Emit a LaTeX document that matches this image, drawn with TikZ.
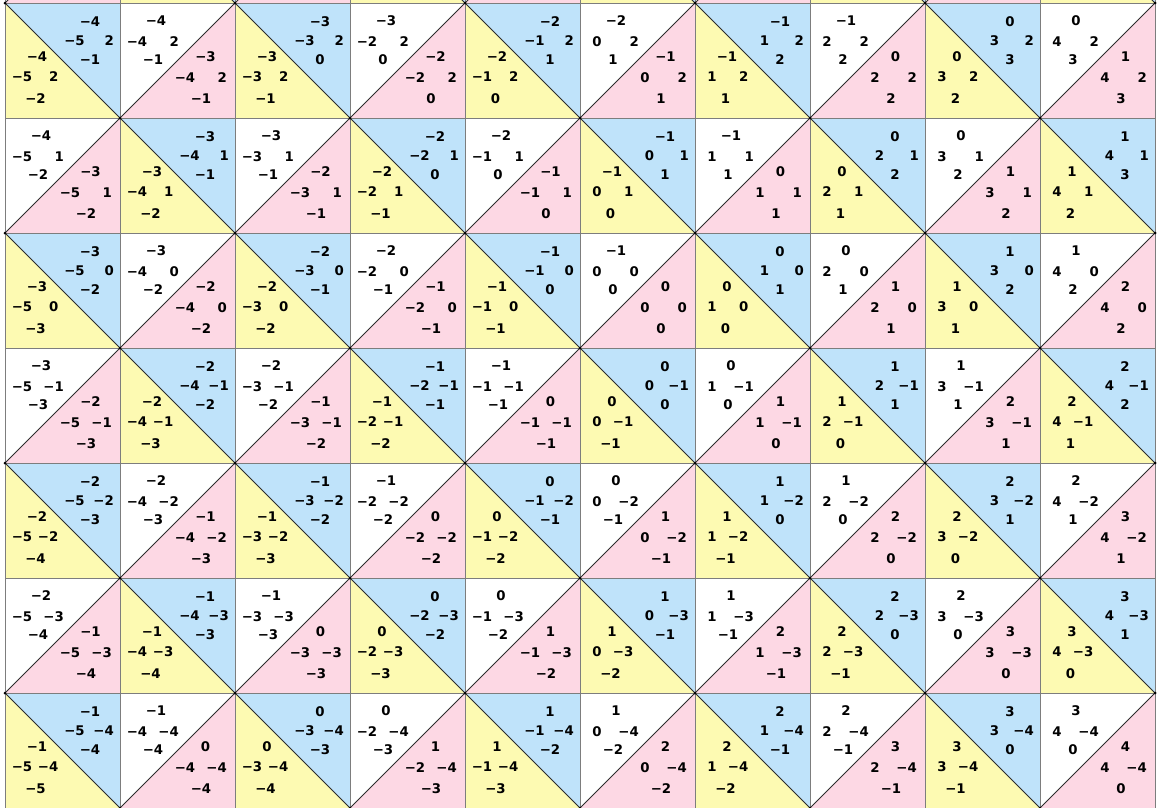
\documentclass[tikz,border=0pt]{standalone}
\usepackage{fontspec}
\setmainfont{DejaVu Sans}
\newfontfamily\numfont{DejaVu Sans Bold}
\definecolor{cblue}{RGB}{191,227,250}
\definecolor{cyellow}{RGB}{253,250,178}
\definecolor{cpink}{RGB}{253,216,228}
\definecolor{cgrid}{RGB}{125,125,125}
\definecolor{cdiag}{RGB}{45,45,45}
\newcommand\sn[1]{\ifnum#1<0 −\number-#1\else\number#1\fi}
\begin{document}
\begin{tikzpicture}[x=1pt,y=-1pt,
  num/.style={inner sep=0pt, font=\numfont\fontsize{13.3}{16}\selectfont},
  gridline/.style={draw=cgrid, line width=0.9pt},
  diagline/.style={draw=cdiag, line width=0.8pt},
  vdot/.style={fill=black, circle, inner sep=0pt, minimum size=3pt}]
\useasboundingbox (0,0) rectangle (1158,807);
\clip (0,0) rectangle (1158,807);
\fill[white] (0,0) rectangle (1158,807);
% triangles
\foreach \r in {-1,...,6}{
  \foreach \c in {0,...,9}{
    \pgfmathsetmacro{\xa}{5+115*\c}
    \pgfmathsetmacro{\ya}{3+115*\r}
    \pgfmathsetmacro{\xb}{\xa+115}
    \pgfmathsetmacro{\yb}{\ya+115}
    \pgfmathtruncatemacro{\pp}{mod(\r+\c+2,2)}
    \ifnum\pp=0
      \fill[cblue] (\xa,\ya) -- (\xb,\ya) -- (\xb,\yb) -- cycle;
      \fill[cyellow] (\xa,\ya) -- (\xa,\yb) -- (\xb,\yb) -- cycle;
    \else
      \fill[white] (\xa,\ya) -- (\xb,\ya) -- (\xa,\yb) -- cycle;
      \fill[cpink] (\xb,\ya) -- (\xb,\yb) -- (\xa,\yb) -- cycle;
    \fi
  }
}
% grid lines
\foreach \j in {0,...,7}{
  \draw[gridline] ({5},{3+115*\j}) -- ({1155},{3+115*\j});
}
\foreach \i in {0,...,10}{
  \draw[gridline] ({5+115*\i},{-5}) -- ({5+115*\i},{812});
}
% diagonals
\foreach \r in {-1,...,6}{
  \foreach \c in {0,...,9}{
    \pgfmathsetmacro{\xa}{5+115*\c}
    \pgfmathsetmacro{\ya}{3+115*\r}
    \pgfmathsetmacro{\xb}{\xa+115}
    \pgfmathsetmacro{\yb}{\ya+115}
    \pgfmathtruncatemacro{\pp}{mod(\r+\c+2,2)}
    \ifnum\pp=0
      \draw[diagline] (\xa,\ya) -- (\xb,\yb);
    \else
      \draw[diagline] (\xa,\yb) -- (\xb,\ya);
    \fi
  }
}
% vertex dots
\foreach \j in {0,...,7}{
  \foreach \i in {0,...,10}{
    \pgfmathtruncatemacro{\pp}{mod(\i+\j,2)}
    \ifnum\pp=0
      \node[vdot] (v-\i-\j) at ({5+115*\i},{3+115*\j}) {};
    \fi
  }
}
% numbers
\foreach \r in {0,...,6}{
  \foreach \c in {0,...,9}{
    \pgfmathsetmacro{\xa}{5+115*\c}
    \pgfmathsetmacro{\ya}{3+115*\r}
    \pgfmathtruncatemacro{\pp}{mod(\r+\c,2)}
    \pgfmathtruncatemacro{\L}{\c-5}
    \pgfmathtruncatemacro{\R}{2-\r}
    \pgfmathtruncatemacro{\ut}{floor((\c+\r)/2)-4}
    \pgfmathtruncatemacro{\ub}{floor((\c-\r)/2)-1}
    \pgfmathtruncatemacro{\lt}{floor((\c+\r+1)/2)-4}
    \pgfmathtruncatemacro{\lb}{floor((\c-\r+1)/2)-2}
    \ifnum\pp=0
      % blue upper-right
      \node[num] (ut-\r-\c) at (\xa+85,\ya+19) {\sn{\ut}};
      \node[num] (ul-\r-\c) at (\xa+69.5,\ya+38) {\sn{\L}};
      \node[num,anchor=east] (ur-\r-\c) at (\xa+109,\ya+38) {\sn{\R}};
      \node[num] (ub-\r-\c) at (\xa+85,\ya+56.5) {\sn{\ub}};
      % yellow lower-left
      \node[num] (lt-\r-\c) at (\xa+32,\ya+53.5) {\sn{\lt}};
      \node[num] (ll-\r-\c) at (\xa+17,\ya+73.5) {\sn{\L}};
      \node[num,anchor=east] (lr-\r-\c) at (\xa+53.5,\ya+73.5) {\sn{\R}};
      \node[num] (lb-\r-\c) at (\xa+30.5,\ya+95.5) {\sn{\lb}};
    \else
      % white upper-left
      \node[num] (ut-\r-\c) at (\xa+36,\ya+18) {\sn{\ut}};
      \node[num] (ul-\r-\c) at (\xa+17,\ya+39) {\sn{\L}};
      \node[num,anchor=east] (ur-\r-\c) at (\xa+59,\ya+39) {\sn{\R}};
      \node[num] (ub-\r-\c) at (\xa+33,\ya+56.5) {\sn{\ub}};
      % pink lower-right
      \node[num] (lt-\r-\c) at (\xa+85.5,\ya+54) {\sn{\lt}};
      \node[num] (ll-\r-\c) at (\xa+65,\ya+75) {\sn{\L}};
      \node[num,anchor=east] (lr-\r-\c) at (\xa+107,\ya+75) {\sn{\R}};
      \node[num] (lb-\r-\c) at (\xa+81,\ya+95.5) {\sn{\lb}};
    \fi
  }
}
\end{tikzpicture}
\end{document}
